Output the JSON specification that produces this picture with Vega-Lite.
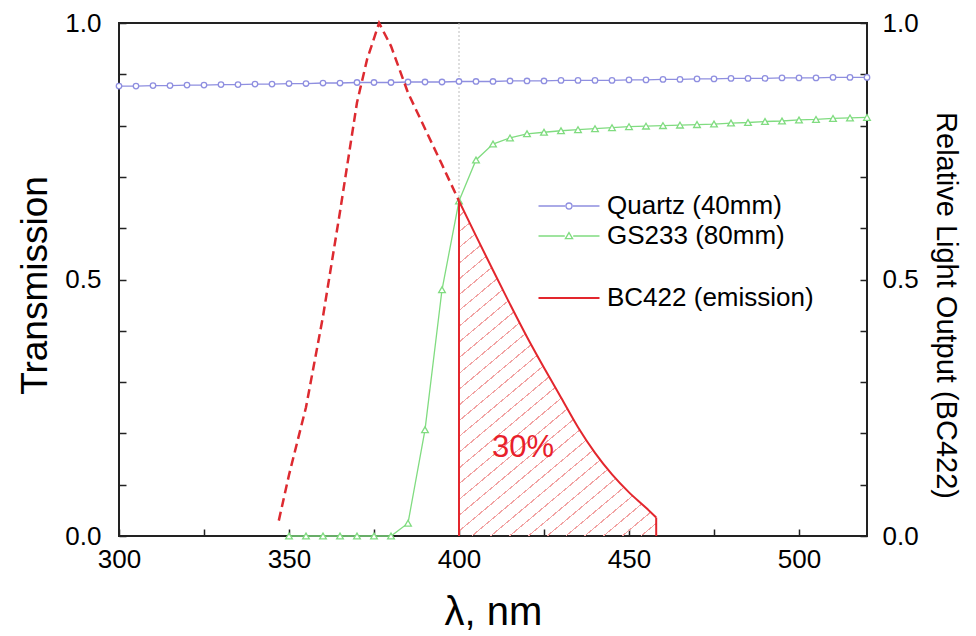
{
  "$schema": "https://vega.github.io/schema/vega-lite/v6.json",
  "width": 748,
  "height": 513,
  "autosize": {"type": "none"},
  "padding": {"left": 119, "top": 23, "right": 109, "bottom": 100},
  "background": "white",
  "config": {
    "view": {"stroke": "#222222", "strokeWidth": 2},
    "axis": {"domain": false, "grid": false, "labelFont": "Liberation Sans", "titleFont": "Liberation Sans", "labelColor": "#000000", "titleColor": "#000000", "titleFontWeight": "normal", "tickColor": "#222222", "tickWidth": 1.5, "labelFontSize": 26, "labelOverlap": false, "labelFlush": false},
    "legend": {"padding": 0, "labelFont": "Liberation Sans", "labelFontSize": 26, "labelColor": "#000000", "labelLimit": 400}
  },
  "datasets": {
    "quartz": [
      {"x": 300, "t": 0.877}, {"x": 305, "t": 0.877}, {"x": 310, "t": 0.878}, {"x": 315, "t": 0.878}, {"x": 320, "t": 0.879},
      {"x": 325, "t": 0.879}, {"x": 330, "t": 0.880}, {"x": 335, "t": 0.880}, {"x": 340, "t": 0.881}, {"x": 345, "t": 0.881},
      {"x": 350, "t": 0.882}, {"x": 355, "t": 0.882}, {"x": 360, "t": 0.883}, {"x": 365, "t": 0.883}, {"x": 370, "t": 0.884},
      {"x": 375, "t": 0.884}, {"x": 380, "t": 0.884}, {"x": 385, "t": 0.885}, {"x": 390, "t": 0.885}, {"x": 395, "t": 0.885},
      {"x": 400, "t": 0.886}, {"x": 405, "t": 0.886}, {"x": 410, "t": 0.886}, {"x": 415, "t": 0.887}, {"x": 420, "t": 0.887},
      {"x": 425, "t": 0.887}, {"x": 430, "t": 0.888}, {"x": 435, "t": 0.888}, {"x": 440, "t": 0.888}, {"x": 445, "t": 0.888},
      {"x": 450, "t": 0.889}, {"x": 455, "t": 0.889}, {"x": 460, "t": 0.890}, {"x": 465, "t": 0.890}, {"x": 470, "t": 0.891},
      {"x": 475, "t": 0.891}, {"x": 480, "t": 0.892}, {"x": 485, "t": 0.892}, {"x": 490, "t": 0.892}, {"x": 495, "t": 0.893},
      {"x": 500, "t": 0.893}, {"x": 505, "t": 0.893}, {"x": 510, "t": 0.894}, {"x": 515, "t": 0.894}, {"x": 520, "t": 0.894}
    ],
    "gs233": [
      {"x": 350, "t": 0}, {"x": 355, "t": 0}, {"x": 360, "t": 0}, {"x": 365, "t": 0}, {"x": 370, "t": 0},
      {"x": 375, "t": 0}, {"x": 380, "t": 0}, {"x": 385, "t": 0.025}, {"x": 390, "t": 0.207}, {"x": 395, "t": 0.48},
      {"x": 400, "t": 0.653}, {"x": 405, "t": 0.733}, {"x": 410, "t": 0.764}, {"x": 415, "t": 0.776}, {"x": 420, "t": 0.784},
      {"x": 425, "t": 0.787}, {"x": 430, "t": 0.790}, {"x": 435, "t": 0.792}, {"x": 440, "t": 0.794}, {"x": 445, "t": 0.796},
      {"x": 450, "t": 0.798}, {"x": 455, "t": 0.799}, {"x": 460, "t": 0.800}, {"x": 465, "t": 0.801}, {"x": 470, "t": 0.802},
      {"x": 475, "t": 0.803}, {"x": 480, "t": 0.805}, {"x": 485, "t": 0.806}, {"x": 490, "t": 0.808}, {"x": 495, "t": 0.809},
      {"x": 500, "t": 0.811}, {"x": 505, "t": 0.812}, {"x": 510, "t": 0.814}, {"x": 515, "t": 0.815}, {"x": 520, "t": 0.816}
    ],
    "dashed": [
      {"x": 347, "r": 0.03}, {"x": 350, "r": 0.119}, {"x": 355, "r": 0.251}, {"x": 360, "r": 0.428}, {"x": 365, "r": 0.632},
      {"x": 370, "r": 0.845}, {"x": 373, "r": 0.93}, {"x": 376.5, "r": 1.0}, {"x": 380, "r": 0.955}, {"x": 385, "r": 0.864},
      {"x": 390, "r": 0.794}, {"x": 395, "r": 0.724}, {"x": 400, "r": 0.653}
    ],
    "solid": [
      {"x": 400, "r": 0.653}, {"x": 405, "r": 0.585}, {"x": 410, "r": 0.518}, {"x": 415, "r": 0.452}, {"x": 420, "r": 0.388},
      {"x": 425, "r": 0.328}, {"x": 430, "r": 0.27}, {"x": 435, "r": 0.212}, {"x": 440, "r": 0.162}, {"x": 445, "r": 0.12},
      {"x": 450, "r": 0.085}, {"x": 455, "r": 0.055}, {"x": 458, "r": 0.036}
    ],
    "drops": [{"x": 400, "r": 0.653}, {"x": 458, "r": 0.036}],
    "edge": [{"x": 400, "y1": 0.653, "y2": 1}],
    "note": [{"x": 418.8, "r": 0.172, "label": "30%"}]
  },
  "encoding": {
    "x": {
      "field": "x", "type": "quantitative",
      "scale": {"domain": [300, 520], "nice": false, "zero": false},
      "axis": {"title": "λ, nm", "values": [300, 325, 350, 375, 400, 425, 450, 475, 500], "labelExpr": "datum.value % 50 == 0 ? datum.label : ''", "tickSize": -7, "labelPadding": 17, "titleFontSize": 40, "titleX": 374, "titleY": 88, "titleBaseline": "alphabetic"}
    }
  },
  "layer": [
    {
      "data": {"name": "solid"},
      "mark": {"type": "area", "interpolate": "monotone", "fill": {"gradient": "linear", "x1": 0, "y1": 0, "x2": 0.597, "y2": 1.21, "stops": [
        {"offset": 0, "color": "rgba(255,255,255,0)"}, {"offset": 0.02844, "color": "rgba(255,255,255,0)"}, {"offset": 0.02844, "color": "#f2a2a2"}, {"offset": 0.03125, "color": "#f2a2a2"},
        {"offset": 0.03125, "color": "rgba(255,255,255,0)"}, {"offset": 0.05969, "color": "rgba(255,255,255,0)"}, {"offset": 0.05969, "color": "#f2a2a2"}, {"offset": 0.0625, "color": "#f2a2a2"},
        {"offset": 0.0625, "color": "rgba(255,255,255,0)"}, {"offset": 0.09094, "color": "rgba(255,255,255,0)"}, {"offset": 0.09094, "color": "#f2a2a2"}, {"offset": 0.09375, "color": "#f2a2a2"},
        {"offset": 0.09375, "color": "rgba(255,255,255,0)"}, {"offset": 0.12219, "color": "rgba(255,255,255,0)"}, {"offset": 0.12219, "color": "#f2a2a2"}, {"offset": 0.125, "color": "#f2a2a2"},
        {"offset": 0.125, "color": "rgba(255,255,255,0)"}, {"offset": 0.15344, "color": "rgba(255,255,255,0)"}, {"offset": 0.15344, "color": "#f2a2a2"}, {"offset": 0.15625, "color": "#f2a2a2"},
        {"offset": 0.15625, "color": "rgba(255,255,255,0)"}, {"offset": 0.18469, "color": "rgba(255,255,255,0)"}, {"offset": 0.18469, "color": "#f2a2a2"}, {"offset": 0.1875, "color": "#f2a2a2"},
        {"offset": 0.1875, "color": "rgba(255,255,255,0)"}, {"offset": 0.21594, "color": "rgba(255,255,255,0)"}, {"offset": 0.21594, "color": "#f2a2a2"}, {"offset": 0.21875, "color": "#f2a2a2"},
        {"offset": 0.21875, "color": "rgba(255,255,255,0)"}, {"offset": 0.24719, "color": "rgba(255,255,255,0)"}, {"offset": 0.24719, "color": "#f2a2a2"}, {"offset": 0.25, "color": "#f2a2a2"},
        {"offset": 0.25, "color": "rgba(255,255,255,0)"}, {"offset": 0.27844, "color": "rgba(255,255,255,0)"}, {"offset": 0.27844, "color": "#f2a2a2"}, {"offset": 0.28125, "color": "#f2a2a2"},
        {"offset": 0.28125, "color": "rgba(255,255,255,0)"}, {"offset": 0.30969, "color": "rgba(255,255,255,0)"}, {"offset": 0.30969, "color": "#f2a2a2"}, {"offset": 0.3125, "color": "#f2a2a2"},
        {"offset": 0.3125, "color": "rgba(255,255,255,0)"}, {"offset": 0.34094, "color": "rgba(255,255,255,0)"}, {"offset": 0.34094, "color": "#f2a2a2"}, {"offset": 0.34375, "color": "#f2a2a2"},
        {"offset": 0.34375, "color": "rgba(255,255,255,0)"}, {"offset": 0.37219, "color": "rgba(255,255,255,0)"}, {"offset": 0.37219, "color": "#f2a2a2"}, {"offset": 0.375, "color": "#f2a2a2"},
        {"offset": 0.375, "color": "rgba(255,255,255,0)"}, {"offset": 0.40344, "color": "rgba(255,255,255,0)"}, {"offset": 0.40344, "color": "#f2a2a2"}, {"offset": 0.40625, "color": "#f2a2a2"},
        {"offset": 0.40625, "color": "rgba(255,255,255,0)"}, {"offset": 0.43469, "color": "rgba(255,255,255,0)"}, {"offset": 0.43469, "color": "#f2a2a2"}, {"offset": 0.4375, "color": "#f2a2a2"},
        {"offset": 0.4375, "color": "rgba(255,255,255,0)"}, {"offset": 0.46594, "color": "rgba(255,255,255,0)"}, {"offset": 0.46594, "color": "#f2a2a2"}, {"offset": 0.46875, "color": "#f2a2a2"},
        {"offset": 0.46875, "color": "rgba(255,255,255,0)"}, {"offset": 0.49719, "color": "rgba(255,255,255,0)"}, {"offset": 0.49719, "color": "#f2a2a2"}, {"offset": 0.5, "color": "#f2a2a2"},
        {"offset": 0.5, "color": "rgba(255,255,255,0)"}, {"offset": 0.52844, "color": "rgba(255,255,255,0)"}, {"offset": 0.52844, "color": "#f2a2a2"}, {"offset": 0.53125, "color": "#f2a2a2"},
        {"offset": 0.53125, "color": "rgba(255,255,255,0)"}, {"offset": 0.55969, "color": "rgba(255,255,255,0)"}, {"offset": 0.55969, "color": "#f2a2a2"}, {"offset": 0.5625, "color": "#f2a2a2"},
        {"offset": 0.5625, "color": "rgba(255,255,255,0)"}, {"offset": 0.59094, "color": "rgba(255,255,255,0)"}, {"offset": 0.59094, "color": "#f2a2a2"}, {"offset": 0.59375, "color": "#f2a2a2"},
        {"offset": 0.59375, "color": "rgba(255,255,255,0)"}, {"offset": 0.62219, "color": "rgba(255,255,255,0)"}, {"offset": 0.62219, "color": "#f2a2a2"}, {"offset": 0.625, "color": "#f2a2a2"},
        {"offset": 0.625, "color": "rgba(255,255,255,0)"}, {"offset": 0.65344, "color": "rgba(255,255,255,0)"}, {"offset": 0.65344, "color": "#f2a2a2"}, {"offset": 0.65625, "color": "#f2a2a2"},
        {"offset": 0.65625, "color": "rgba(255,255,255,0)"}, {"offset": 0.68469, "color": "rgba(255,255,255,0)"}, {"offset": 0.68469, "color": "#f2a2a2"}, {"offset": 0.6875, "color": "#f2a2a2"},
        {"offset": 0.6875, "color": "rgba(255,255,255,0)"}, {"offset": 0.71594, "color": "rgba(255,255,255,0)"}, {"offset": 0.71594, "color": "#f2a2a2"}, {"offset": 0.71875, "color": "#f2a2a2"},
        {"offset": 0.71875, "color": "rgba(255,255,255,0)"}, {"offset": 0.74719, "color": "rgba(255,255,255,0)"}, {"offset": 0.74719, "color": "#f2a2a2"}, {"offset": 0.75, "color": "#f2a2a2"},
        {"offset": 0.75, "color": "rgba(255,255,255,0)"}, {"offset": 0.77844, "color": "rgba(255,255,255,0)"}, {"offset": 0.77844, "color": "#f2a2a2"}, {"offset": 0.78125, "color": "#f2a2a2"},
        {"offset": 0.78125, "color": "rgba(255,255,255,0)"}, {"offset": 0.80969, "color": "rgba(255,255,255,0)"}, {"offset": 0.80969, "color": "#f2a2a2"}, {"offset": 0.8125, "color": "#f2a2a2"},
        {"offset": 0.8125, "color": "rgba(255,255,255,0)"}, {"offset": 0.84094, "color": "rgba(255,255,255,0)"}, {"offset": 0.84094, "color": "#f2a2a2"}, {"offset": 0.84375, "color": "#f2a2a2"},
        {"offset": 0.84375, "color": "rgba(255,255,255,0)"}, {"offset": 0.87219, "color": "rgba(255,255,255,0)"}, {"offset": 0.87219, "color": "#f2a2a2"}, {"offset": 0.875, "color": "#f2a2a2"},
        {"offset": 0.875, "color": "rgba(255,255,255,0)"}, {"offset": 0.90344, "color": "rgba(255,255,255,0)"}, {"offset": 0.90344, "color": "#f2a2a2"}, {"offset": 0.90625, "color": "#f2a2a2"},
        {"offset": 0.90625, "color": "rgba(255,255,255,0)"}, {"offset": 0.93469, "color": "rgba(255,255,255,0)"}, {"offset": 0.93469, "color": "#f2a2a2"}, {"offset": 0.9375, "color": "#f2a2a2"},
        {"offset": 0.9375, "color": "rgba(255,255,255,0)"}, {"offset": 0.96594, "color": "rgba(255,255,255,0)"}, {"offset": 0.96594, "color": "#f2a2a2"}, {"offset": 0.96875, "color": "#f2a2a2"},
        {"offset": 0.96875, "color": "rgba(255,255,255,0)"}, {"offset": 0.99719, "color": "rgba(255,255,255,0)"}, {"offset": 0.99719, "color": "#f2a2a2"}, {"offset": 1, "color": "#f2a2a2"}
      ]}},
      "encoding": {
        "y": {"field": "r", "type": "quantitative", "scale": {"domain": [0, 1], "nice": false}, "axis": null}
      }
    },
    {
      "data": {"name": "edge"},
      "mark": {"type": "rule", "color": "#bdbdbd", "strokeWidth": 1, "strokeDash": [2, 2]},
      "encoding": {
        "y": {"field": "y1", "type": "quantitative", "scale": {"domain": [0, 1], "nice": false}, "axis": null},
        "y2": {"field": "y2"}
      }
    },
    {
      "data": {"name": "quartz"},
      "mark": {"type": "line", "strokeWidth": 1.3},
      "encoding": {
        "y": {"field": "t", "type": "quantitative", "scale": {"domain": [0, 1], "nice": false},
          "axis": {"orient": "left", "title": "Transmission", "values": [0, 0.1, 0.2, 0.3, 0.4, 0.5, 0.6, 0.7, 0.8, 0.9, 1], "labelExpr": "datum.value == 0 ? '0.0' : datum.value == 0.5 ? '0.5' : datum.value == 1 ? '1.0' : ''", "tickSize": -7, "labelPadding": 25, "titleFontSize": 37, "titleX": -84, "titleY": 262, "titleBaseline": "middle"}},
        "color": {"datum": "Quartz (40mm)", "scale": {"range": ["#8f8fe0"]},
          "legend": {"orient": "none", "legendX": 437, "legendY": 170, "title": null, "symbolType": "M-3.05,0H-0.38M0.38,0H3.05M0.3,0A0.3,0.3,0,1,1,-0.3,0A0.3,0.3,0,1,1,0.3,0", "symbolSize": 400, "symbolStrokeWidth": 1.3, "labelOffset": 25}}
      }
    },
    {
      "data": {"name": "quartz"},
      "mark": {"type": "point", "shape": "circle", "filled": true, "fill": "#ffffff", "stroke": "#8f8fe0", "strokeWidth": 1.3, "size": 30, "opacity": 1},
      "encoding": {
        "y": {"field": "t", "type": "quantitative", "scale": {"domain": [0, 1], "nice": false}, "axis": null}
      }
    },
    {
      "data": {"name": "gs233"},
      "mark": {"type": "line", "strokeWidth": 1.3},
      "encoding": {
        "y": {"field": "t", "type": "quantitative", "scale": {"domain": [0, 1], "nice": false}, "axis": null},
        "color": {"datum": "GS233 (80mm)", "scale": {"range": ["#80dc80"]},
          "legend": {"orient": "none", "legendX": 437, "legendY": 200, "title": null, "symbolType": "M-3.05,0H-0.42M0.42,0H3.05M0,-0.34L0.36,0.26L-0.36,0.26Z", "symbolSize": 400, "symbolStrokeWidth": 1.3, "labelOffset": 25}}
      }
    },
    {
      "data": {"name": "gs233"},
      "mark": {"type": "point", "shape": "triangle-up", "filled": true, "fill": "#ffffff", "stroke": "#80dc80", "strokeWidth": 1.3, "size": 45, "opacity": 1},
      "encoding": {
        "y": {"field": "t", "type": "quantitative", "scale": {"domain": [0, 1], "nice": false}, "axis": null}
      }
    },
    {
      "data": {"name": "dashed"},
      "mark": {"type": "line", "color": "#dd2a30", "strokeWidth": 2.5, "strokeDash": [9, 5]},
      "encoding": {
        "y": {"field": "r", "type": "quantitative", "scale": {"domain": [0, 1], "nice": false}, "axis": null}
      }
    },
    {
      "data": {"name": "drops"},
      "mark": {"type": "rule", "color": "#e3262d", "strokeWidth": 2},
      "encoding": {
        "y": {"field": "r", "type": "quantitative", "scale": {"domain": [0, 1], "nice": false}, "axis": null},
        "y2": {"datum": 0}
      }
    },
    {
      "data": {"name": "solid"},
      "mark": {"type": "line", "strokeWidth": 2, "interpolate": "monotone"},
      "encoding": {
        "y": {"field": "r", "type": "quantitative", "scale": {"domain": [0, 1], "nice": false},
          "axis": {"orient": "right", "title": "Relative Light Output (BC422)", "values": [0, 0.1, 0.2, 0.3, 0.4, 0.5, 0.6, 0.7, 0.8, 0.9, 1], "labelExpr": "datum.value == 0 ? '0.0' : datum.value == 0.5 ? '0.5' : datum.value == 1 ? '1.0' : ''", "tickSize": -7, "labelPadding": 22, "titleFontSize": 29, "titleAngle": 90, "titleX": 78, "titleY": 282, "titleBaseline": "middle"}},
        "color": {"datum": "BC422 (emission)", "scale": {"range": ["#e3262d"]},
          "legend": {"orient": "none", "legendX": 437, "legendY": 262, "title": null, "symbolType": "M-3.05,0H3.05", "symbolSize": 400, "symbolStrokeWidth": 2, "labelOffset": 25}}
      }
    },
    {
      "data": {"name": "note"},
      "mark": {"type": "text", "font": "Liberation Sans", "fontSize": 31, "color": "#e8202a", "align": "center", "baseline": "middle"},
      "encoding": {
        "y": {"field": "r", "type": "quantitative", "scale": {"domain": [0, 1], "nice": false}, "axis": null},
        "text": {"field": "label"}
      }
    }
  ],
  "resolve": {"scale": {"y": "independent", "color": "independent"}}
}
